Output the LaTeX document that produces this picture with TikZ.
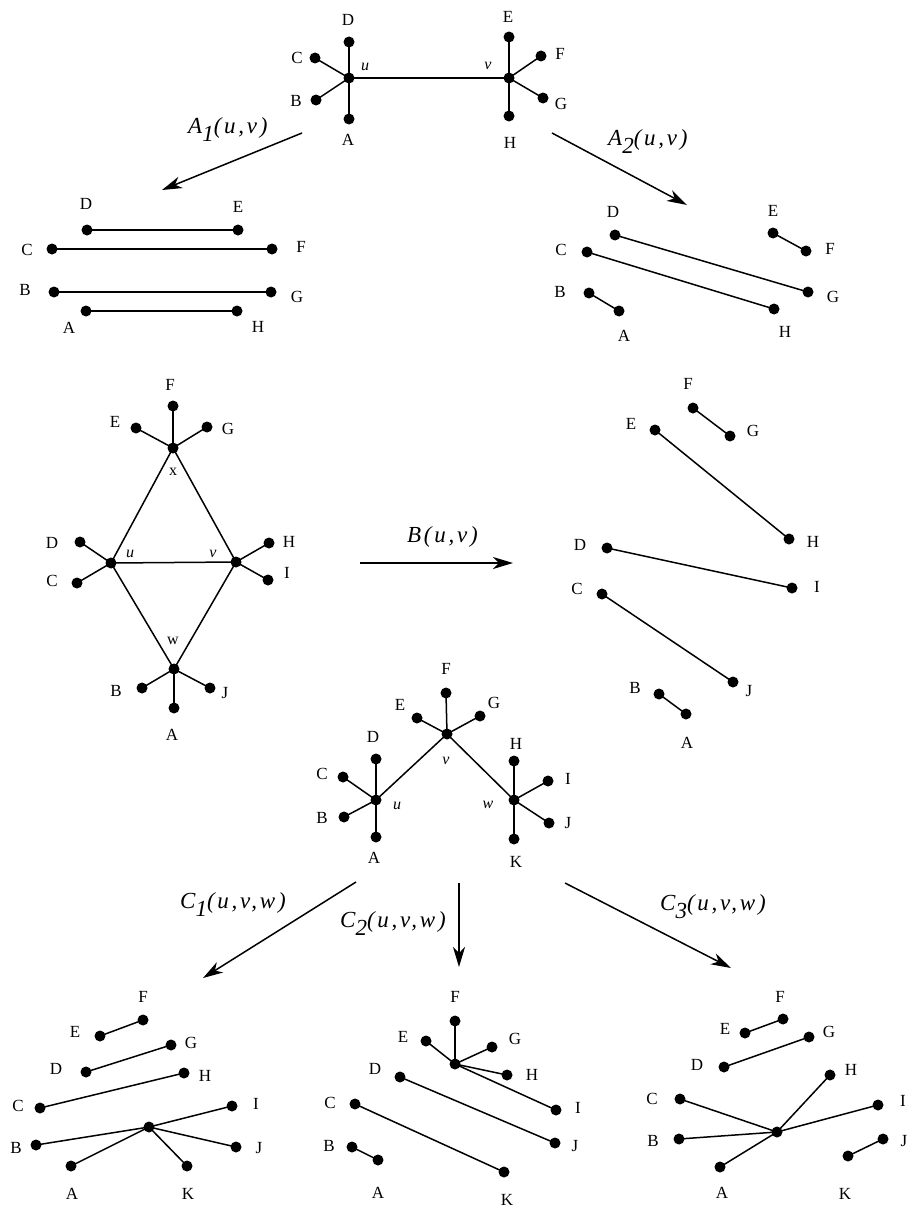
\documentclass[tikz,border=0pt]{standalone}
\usepackage{fontspec}
\setmainfont{Liberation Serif}
\newfontfamily\maplabfont[LetterSpace=12]{Liberation Serif}
\usetikzlibrary{arrows.meta}
\tikzset{
    vdot/.style={fill,circle,inner sep=0pt,minimum size=11pt},
    lab/.style={inner sep=0pt,font=\fontsize{17}{19}\selectfont},
    vname/.style={inner sep=0pt,font=\fontsize{16}{18}\selectfont\itshape},
    seg/.style={line width=1.5pt},
    maparrow/.style={line width=1.5pt,-{Stealth[length=20pt,width=12pt,inset=6pt]}},
    maplab/.style={inner sep=0pt,anchor=base west,font=\fontsize{23}{27}\maplabfont\itshape}
}
\newcommand{\lowsub}[1]{\raisebox{-8pt}{#1}}

\begin{document}
\begin{tikzpicture}[x=1pt,y=-1pt]
    \useasboundingbox (0,0) rectangle (910,1215);

    % top graph
    \node [vdot] (pu) at (349,78) {};
    \node [vdot] (pv) at (509,78) {};
    \node [vname] (lpu) at (365,67) {u};
    \node [vname] (lpv) at (488,66) {v};
    \foreach \n/\x/\y/\lx/\ly in {A/349/119/348/140, B/316/100/296/101,
        C/315/58/297/58, D/349/42/348/20, E/509/37/508/17, F/541/56/560/54,
        G/543/98/561/104, H/509/116/510/143} {
        \node [vdot] (p\n) at (\x,\y) {};
        \node [lab] (lp\n) at (\lx,\ly) {\n};
    }
    \foreach \a/\b in {pu/pA,pu/pB,pu/pC,pu/pD,pu/pv,pv/pE,pv/pF,pv/pG,pv/pH}
        \draw [seg] (\a.center) -- (\b.center);

    % A1 result
    \foreach \n/\x/\y/\lx/\ly in {A/86/311/69/328, B/54/292/25/290,
        C/52/249/27/250, D/87/230/86/204, E/238/230/238/207, F/272/249/301/247,
        G/271/292/297/297, H/237/311/258/327} {
        \node [vdot] (q\n) at (\x,\y) {};
        \node [lab] (lq\n) at (\lx,\ly) {\n};
    }
    \foreach \a/\b in {qD/qE,qC/qF,qB/qG,qA/qH}
        \draw [seg] (\a.center) -- (\b.center);

    % A2 result
    \foreach \n/\x/\y/\lx/\ly in {A/619/311/624/336, B/589/293/560/292,
        C/587/252/561/250, D/615/235/613/212, E/773/233/773/211, F/806/251/830/249,
        G/808/292/833/297, H/774/309/785/332} {
        \node [vdot] (r\n) at (\x,\y) {};
        \node [lab] (lr\n) at (\lx,\ly) {\n};
    }
    \foreach \a/\b in {rD/rG,rC/rH,rB/rA,rE/rF}
        \draw [seg] (\a.center) -- (\b.center);

    % middle graph
    \node [vdot] (sx) at (173,448) {};
    \node [vdot] (su) at (111,563) {};
    \node [vdot] (sv) at (236,562) {};
    \node [vdot] (sw) at (174,669) {};
    \node [vname] (lsx) at (173,472) {\upshape x};
    \node [vname] (lsu) at (130,554) {u};
    \node [vname] (lsv) at (213,554) {v};
    \node [vname] (lsw) at (173,641) {\upshape w};
    \foreach \n/\x/\y/\lx/\ly in {A/174/708/172/735, B/142/688/116/691,
        C/77/583/52/581, D/80/542/52/543, E/136/428/115/422, F/173/406/170/385,
        G/207/427/228/429, H/269/543/289/542, I/268/580/287/573, J/210/688/225/693} {
        \node [vdot] (s\n) at (\x,\y) {};
        \node [lab] (ls\n) at (\lx,\ly) {\n};
    }
    \foreach \a/\b in {sx/sE,sx/sF,sx/sG,sx/su,sx/sv,su/sv,su/sD,su/sC,su/sw,
        sv/sH,sv/sI,sv/sw,sw/sB,sw/sJ,sw/sA}
        \draw [seg] (\a.center) -- (\b.center);

    % B result
    \foreach \n/\x/\y/\lx/\ly in {A/686/714/687/743, B/659/694/635/688,
        C/602/594/577/589, D/607/548/580/545, E/655/430/631/424, F/693/408/688/384,
        G/730/436/753/431, H/789/539/813/542, I/792/588/817/587, J/733/682/749/691} {
        \node [vdot] (m\n) at (\x,\y) {};
        \node [lab] (lm\n) at (\lx,\ly) {\n};
    }
    \foreach \a/\b in {mF/mG,mE/mH,mD/mI,mC/mJ,mB/mA}
        \draw [seg] (\a.center) -- (\b.center);

    % lower graph
    \node [vdot] (cu) at (376,800) {};
    \node [vdot] (cv) at (447,734) {};
    \node [vdot] (cw) at (514,800) {};
    \node [vname] (lcu) at (397,806) {u};
    \node [vname] (lcv) at (446,761) {v};
    \node [vname] (lcw) at (488,805) {w};
    \foreach \n/\x/\y/\lx/\ly in {A/376/837/374/858, B/344/817/322/818,
        C/343/777/322/774, D/376/759/373/737, E/417/718/400/705, F/446/693/446/669,
        G/480/716/494/703, H/514/761/516/744, I/548/781/568/779, J/549/823/568/823,
        K/514/839/516/862} {
        \node [vdot] (c\n) at (\x,\y) {};
        \node [lab] (lc\n) at (\lx,\ly) {\n};
    }
    \foreach \a/\b in {cv/cE,cv/cF,cv/cG,cv/cu,cv/cw,cu/cA,cu/cB,cu/cC,cu/cD,
        cw/cH,cw/cI,cw/cJ,cw/cK}
        \draw [seg] (\a.center) -- (\b.center);

    % C1 result
    \node [vdot] (dz) at (149,1127) {};
    \foreach \n/\x/\y/\lx/\ly in {A/71/1166/72/1194, B/36/1145/16/1148,
        C/40/1108/18/1106, D/86/1072/56/1069, E/100/1036/75/1032, F/143/1020/143/997,
        G/171/1045/191/1043, H/184/1073/205/1076, I/232/1106/256/1104,
        J/236/1147/259/1148, K/187/1166/188/1194} {
        \node [vdot] (d\n) at (\x,\y) {};
        \node [lab] (ld\n) at (\lx,\ly) {\n};
    }
    \foreach \a/\b in {dE/dF,dD/dG,dC/dH,dz/dB,dz/dI,dz/dJ,dz/dA,dz/dK}
        \draw [seg] (\a.center) -- (\b.center);

    % C2 result
    \node [vdot] (ez) at (455,1064) {};
    \foreach \n/\x/\y/\lx/\ly in {A/378/1160/378/1193, B/352/1147/329/1146,
        C/355/1104/330/1103, D/400/1077/375/1069, E/426/1041/403/1037,
        F/455/1021/455/997, G/492/1047/515/1039, H/507/1075/532/1075,
        I/556/1110/578/1108, J/555/1143/575/1146, K/504/1172/507/1200} {
        \node [vdot] (e\n) at (\x,\y) {};
        \node [lab] (le\n) at (\lx,\ly) {\n};
    }
    \foreach \a/\b in {ez/eF,ez/eE,ez/eG,ez/eH,ez/eI,eD/eJ,eC/eK,eB/eA}
        \draw [seg] (\a.center) -- (\b.center);

    % C3 result
    \node [vdot] (fz) at (777,1132) {};
    \foreach \n/\x/\y/\lx/\ly in {A/720/1167/722/1193, B/679/1139/653/1141,
        C/680/1099/652/1099, D/724/1067/697/1065, E/745/1033/725/1029,
        F/783/1019/780/997, G/809/1037/829/1032, H/830/1075/851/1070,
        I/878/1105/903/1101, J/883/1139/904/1141, K/848/1156/845/1194} {
        \node [vdot] (f\n) at (\x,\y) {};
        \node [lab] (lf\n) at (\lx,\ly) {\n};
    }
    \foreach \a/\b in {fE/fF,fD/fG,fz/fC,fz/fB,fz/fA,fz/fH,fz/fI,fK/fJ}
        \draw [seg] (\a.center) -- (\b.center);

    % maps
    \coordinate (a1s) at (302,133);
    \coordinate (a1e) at (162,190);
    \coordinate (a2s) at (552,133);
    \coordinate (a2e) at (687,205);
    \coordinate (bs) at (360,563);
    \coordinate (be) at (513,563);
    \coordinate (c1s) at (356,882);
    \coordinate (c1e) at (203,978);
    \coordinate (c2s) at (459,883);
    \coordinate (c2e) at (459,967);
    \coordinate (c3s) at (565,883);
    \coordinate (c3e) at (731,968);
    \foreach \a/\b in {a1s/a1e,a2s/a2e,bs/be,c1s/c1e,c2s/c2e,c3s/c3e}
        \draw [maparrow] (\a) -- (\b);
    \node [maplab] (la1) at (188,133) {A\lowsub{1}(u,v)};
    \node [maplab] (la2) at (608,145) {A\lowsub{2}(u,v)};
    \node [maplab] (lb) at (407,542) {B(u,v)};
    \node [maplab] (lc1) at (180,908) {C\lowsub{1}(u,v,w)};
    \node [maplab] (lc2) at (340,927) {C\lowsub{2}(u,v,w)};
    \node [maplab] (lc3) at (660,910) {C\lowsub{3}(u,v,w)};
\end{tikzpicture}
\end{document}
